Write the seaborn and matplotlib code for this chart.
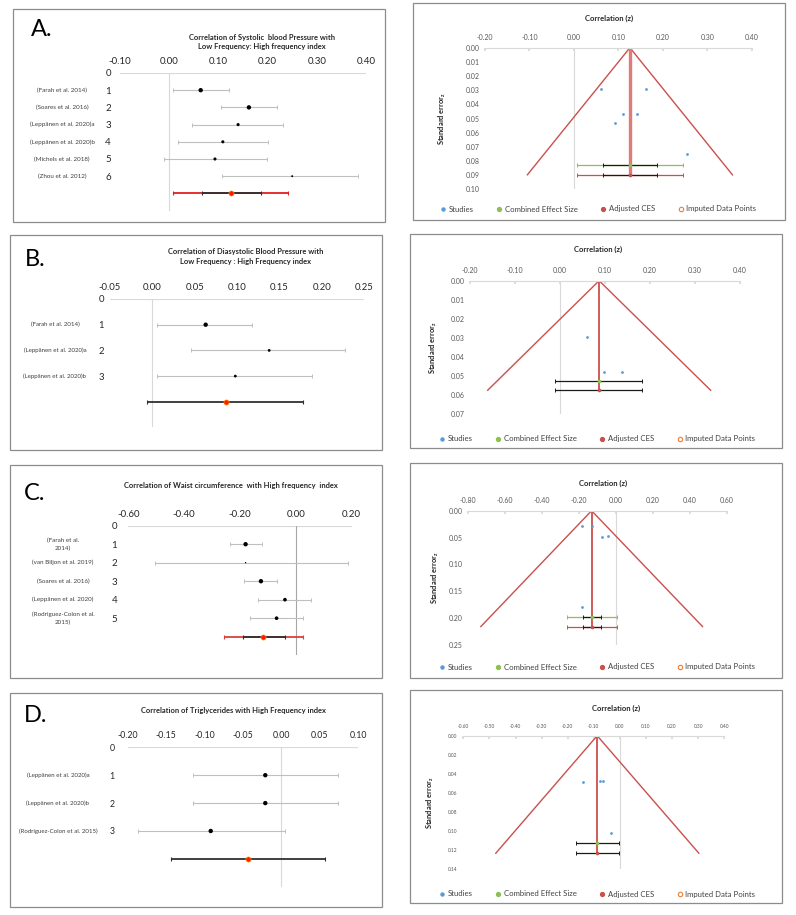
"""Forest plots + funnel plots (HRV meta-analysis figure), panels A-D"""

import matplotlib
matplotlib.use("Agg")
import matplotlib.pyplot as plt
import matplotlib.transforms as mtransforms
from matplotlib.lines import Line2D
from matplotlib.patches import Rectangle
import numpy as np
import seaborn as sns

sns.set_theme(style="white")
plt.rcParams["font.family"] = ["Lato", "DejaVu Sans"]
plt.rcParams["axes.unicode_minus"] = False

W, H = 796, 915

# ---------------- data: forest plots (z, 95% CI, relative weight) ----------------
A_STUDIES = ["(Farah et al. 2014)", "(Soares et al. 2016)", "(Leppänen et al. 2020)a",
             "(Leppänen et al. 2020)b", "(Michels et al. 2018)", "(Zhou et al. 2012)"]
A_EST = [0.064, 0.162, 0.140, 0.109, 0.093, 0.250]
A_LO = [0.007, 0.106, 0.047, 0.018, -0.011, 0.107]
A_HI = [0.122, 0.220, 0.231, 0.201, 0.198, 0.384]
A_WEIGHT = [10, 10, 5, 5, 5, 2]
A_POOLED = [0.126, 0.066, 0.186, 0.007, 0.241]   # est, inner lo/hi, outer lo/hi

B_STUDIES = ["(Farah et al. 2014)", "(Leppänen et al. 2020)a", "(Leppänen et al. 2020)b"]
B_EST = [0.063, 0.138, 0.098]
B_LO = [0.006, 0.046, 0.006]
B_HI = [0.118, 0.227, 0.189]
B_WEIGHT = [10, 4, 4]
B_POOLED = [0.087, -0.006, 0.178, None, None]

C_STUDIES = ["(Farah et al.\n2014)", "(van Biljon et al. 2019)", "(Soares et al. 2016)",
             "(Leppänen et al. 2020)", "(Rodriguez-Colon et al.\n2015)"]
C_EST = [-0.180, -0.180, -0.125, -0.039, -0.069]
C_LO = [-0.236, -0.505, -0.185, -0.135, -0.165]
C_HI = [-0.123, 0.185, -0.067, 0.056, 0.026]
C_WEIGHT = [10, 1, 10, 7, 7]
C_POOLED = [-0.117, -0.191, -0.039, -0.257, 0.026]

D_STUDIES = ["(Leppänen et al. 2020)a", "(Leppänen et al. 2020)b", "(Rodriguez-Colon et al. 2015)"]
D_EST = [-0.021, -0.021, -0.092]
D_LO = [-0.115, -0.115, -0.186]
D_HI = [0.074, 0.074, 0.005]
D_WEIGHT = [10, 10, 10]
D_POOLED = [-0.044, -0.144, 0.057, None, None]

# ---------------- data: funnel plots ----------------
# study z, study SE, [CES, SE row of CES, SE row of adjusted CES], outer CI, inner CI, funnel bottom x
FA_Z = [0.062, 0.162, 0.110, 0.141, 0.092, 0.255]
FA_SE = [0.029, 0.029, 0.047, 0.047, 0.053, 0.075]
FA_CES = [0.126, 0.0826, 0.0899]
FA_CI = [0.006, 0.245]
FA_CI_IN = [0.065, 0.188]
FA_FUNNEL = [-0.105, 0.357]

FB_Z = [0.061, 0.097, 0.138]
FB_SE = [0.0294, 0.0478, 0.0478]
FB_CES = [0.087, 0.0525, 0.0576]
FB_CI = None
FB_CI_IN = [-0.010, 0.182]
FB_FUNNEL = [-0.161, 0.335]

FC_Z = [-0.186, -0.132, -0.074, -0.045, -0.186]
FC_SE = [0.0285, 0.0285, 0.0484, 0.047, 0.179]
FC_CES = [-0.132, 0.198, 0.216]
FC_CI = [-0.264, 0.004]
FC_CI_IN = [-0.181, -0.081]
FC_FUNNEL = [-0.733, 0.470]

FD_Z = [-0.142, -0.075, -0.064, -0.034]
FD_SE = [0.049, 0.0473, 0.0473, 0.1026]
FD_CES = [-0.087, 0.113, 0.1236]
FD_CI = None
FD_CI_IN = [-0.170, -0.003]
FD_FUNNEL = [-0.476, 0.303]

BLUE = "#5B9BD5"
GREEN = "#8CC152"
RED = "#C9504D"
ORANGE = "#ED7D31"
GRID = "#D9D9D9"

fig = plt.figure(figsize=(W / 100, H / 100), dpi=100)
fig.patch.set_facecolor("white")


def add_ax(l, t, r, b):
    return fig.add_axes([l / W, 1 - b / H, (r - l) / W, (b - t) / H])


def ftext(x, y, s, **kw):
    fig.text(x / W, 1 - y / H, s, **kw)


def fmt2(vals):
    return [f"{v + 0.0:.2f}" for v in vals]


# panel frames
for l, t, r, b in [(13, 9, 385, 222), (413, 3, 785, 220), (10, 235, 382, 450), (410, 234, 782, 448),
                   (10, 465, 382, 678), (410, 463, 782, 678), (10, 693, 382, 907), (410, 690, 782, 903)]:
    fig.patches.append(Rectangle((l / W, 1 - b / H), (r - l) / W, (b - t) / H, transform=fig.transFigure,
                                 fill=False, edgecolor="#8C8C8C", lw=0.9))


def forest(ax, labels, est, lo, hi, weight, pooled, xticks, nrows, label_x, fs, ypad,
           zero_color=GRID, outer_color=None, lab_fs=4.5):
    n = len(labels)
    rows = np.arange(1, n + 1)
    ax.set_xlim(xticks[0], xticks[-1])
    ax.set_ylim(nrows, 0)
    ax.axhline(0, color=GRID, lw=0.8, zorder=0)
    ax.axvline(0, color=zero_color, lw=0.8, zorder=0)
    ax.errorbar(est, rows, xerr=[np.subtract(est, lo), np.subtract(hi, est)], fmt="none",
                ecolor="#BFBFBF", elinewidth=0.8, capsize=1.3, capthick=0.7)
    sizes = {w: w for w in set(weight)}
    sns.scatterplot(x=est, y=rows, size=weight, sizes=sizes, color="black", linewidth=0,
                    legend=False, ax=ax, zorder=3)
    p_est, in_lo, in_hi, out_lo, out_hi = pooled
    prow = n + 1
    if out_lo is not None:
        ax.errorbar([p_est], [prow], xerr=[[p_est - out_lo], [out_hi - p_est]], fmt="none",
                    ecolor=outer_color, elinewidth=1.3, capsize=1.3, capthick=0.8)
    ax.errorbar([p_est], [prow], xerr=[[p_est - in_lo], [in_hi - p_est]], fmt="none",
                ecolor="#303030", elinewidth=1.3, capsize=1.3, capthick=0.8)
    sns.scatterplot(x=[p_est], y=[prow], color="#FF1A00", edgecolor="#FFB000", linewidth=0.4,
                    s=14, ax=ax, zorder=4)
    ax.xaxis.tick_top()
    ax.set_xticks(xticks)
    ax.set_xticklabels(fmt2(xticks), fontsize=fs, color="#262626")
    ax.set_yticks(range(n + 1))
    ax.set_yticklabels([str(i) for i in range(n + 1)], fontsize=fs, color="#262626")
    ax.tick_params(axis="x", length=0, pad=5)
    ax.tick_params(axis="y", length=0, pad=ypad)
    for sp in ax.spines.values():
        sp.set_visible(False)
    ax.set_facecolor("none")
    trans = mtransforms.blended_transform_factory(fig.transFigure, ax.transData)
    for r, lab in zip(rows, labels):
        ax.text(label_x / W, r, lab, transform=trans, ha="center", va="center",
                fontsize=lab_fs, color="#404040", linespacing=1.5)


def funnel(ax, z, se, ces, ci, ci_in, fun, xticks, yticks, fs, vline_w=1.3, vline_color=RED):
    est, se_ces, se_adj = ces
    ax.set_xlim(xticks[0], xticks[-1])
    ax.set_ylim(yticks[-1], 0)
    ax.plot([0, 0], [0, yticks[-1]], color=GRID, lw=0.8, zorder=0)
    ax.plot([fun[0], est, fun[1]], [se_adj, 0, se_adj], color=RED, lw=1.0, zorder=1)
    ax.plot([est, est], [0, se_adj], color=vline_color, lw=vline_w, zorder=1)
    for yrow, col in [(se_ces, GREEN), (se_adj, RED)]:
        if ci is not None:
            ax.errorbar([est], [yrow], xerr=[[est - ci[0]], [ci[1] - est]], fmt="none",
                        ecolor=col, elinewidth=0.9, capsize=1.2, capthick=0.7, zorder=2)
        ax.errorbar([est], [yrow], xerr=[[est - ci_in[0]], [ci_in[1] - est]], fmt="none",
                    ecolor="#1A1A1A", elinewidth=0.9, capsize=1.2, capthick=0.7, zorder=2)
    sns.scatterplot(x=z, y=se, color=BLUE, s=4, linewidth=0, ax=ax, zorder=3)
    sns.scatterplot(x=[est], y=[se_ces], color=GREEN, s=7, linewidth=0, ax=ax, zorder=4)
    sns.scatterplot(x=[est], y=[se_adj], color=RED, s=7, linewidth=0, ax=ax, zorder=4)
    ax.xaxis.tick_top()
    ax.set_xticks(xticks)
    ax.set_xticklabels(fmt2(xticks), fontsize=fs, color="#595959")
    ax.set_yticks(yticks)
    ax.set_yticklabels(fmt2(yticks), fontsize=fs, color="#595959")
    ax.tick_params(axis="x", length=2, direction="in", color=GRID, pad=5)
    ax.tick_params(axis="y", length=0, pad=4)
    for k, sp in ax.spines.items():
        sp.set_visible(k == "top")
    ax.spines["top"].set_color(GRID)
    ax.spines["top"].set_linewidth(0.8)
    ax.set_facecolor("none")


def funnel_legend(ax, x, y, fs=5.6):
    handles = [Line2D([], [], marker="o", ls="", color=BLUE, ms=2.2, label="Studies"),
               Line2D([], [], marker="o", ls="", color=GREEN, ms=2.8, label="Combined Effect Size"),
               Line2D([], [], marker="o", ls="", color=RED, ms=2.8, label="Adjusted CES"),
               Line2D([], [], marker="o", ls="", mfc="none", mec=ORANGE, mew=0.8, ms=3.2,
                      label="Imputed Data Points")]
    ax.legend(handles=handles, loc="center left", bbox_to_anchor=(x / W, 1 - y / H),
              bbox_transform=fig.transFigure, ncol=4, frameon=False, fontsize=fs,
              handlelength=0.8, handletextpad=0.3, columnspacing=2.9, borderpad=0,
              borderaxespad=0, labelcolor="#404040")


def funnel_labels(ax, title_xy, ylab_x):
    ftext(*title_xy, "Correlation (z)", ha="center", va="center", fontsize=5.5,
          fontweight="bold", color="#262626")
    pos = ax.get_position()
    fig.text(ylab_x / W, pos.y0 + pos.height / 2, r"Standard error$_\mathregular{z}$", rotation=90,
             ha="center", va="center", fontsize=5.4, fontweight="bold", color="#262626")


# ---------------- A ----------------
ax = add_ax(120, 73, 366, 210.6)
forest(ax, A_STUDIES, A_EST, A_LO, A_HI, A_WEIGHT, A_POOLED, np.round(np.arange(-0.10, 0.41, 0.10), 2),
       8, 62, 7, 6.5, outer_color="#E02020")
ftext(262, 42, "Correlation of Systolic  blood Pressure with\nLow Frequency: High frequency index",
      ha="center", va="center", fontsize=5.4, fontweight="bold", color="#262626", linespacing=1.4)
ftext(31, 30, "A.", ha="left", va="center", fontsize=17, color="black")

ax = add_ax(485, 47.7, 751.7, 189.3)
funnel(ax, FA_Z, FA_SE, FA_CES, FA_CI, FA_CI_IN, FA_FUNNEL, np.round(np.arange(-0.2, 0.41, 0.1), 2),
       np.round(np.arange(0, 0.101, 0.01), 2), 5, vline_w=2.4, vline_color="#E07B7A")
funnel_labels(ax, (609, 18), 442)
funnel_legend(ax, 440, 209)

# ---------------- B ----------------
ax = add_ax(110, 299, 364, 427.5)
forest(ax, B_STUDIES, B_EST, B_LO, B_HI, B_WEIGHT, B_POOLED, np.round(np.arange(-0.05, 0.26, 0.05), 2),
       5, 55, 6.8, 4.3, lab_fs=4.4)
ftext(246, 256.5, "Correlation of Diasystolic Blood Pressure with\nLow Frequency : High Frequency index",
      ha="center", va="center", fontsize=5.4, fontweight="bold", color="#262626", linespacing=1.4)
ftext(25, 260, "B.", ha="left", va="center", fontsize=17, color="black")

ax = add_ax(470, 280.7, 740, 414)
funnel(ax, FB_Z, FB_SE, FB_CES, FB_CI, FB_CI_IN, FB_FUNNEL, np.round(np.arange(-0.2, 0.41, 0.1), 2),
       np.round(np.arange(0, 0.071, 0.01), 2), 5)
funnel_labels(ax, (598, 249), 433)
funnel_legend(ax, 439, 439)

# ---------------- C ----------------
ax = add_ax(128.3, 525.7, 351.7, 655.2)
forest(ax, C_STUDIES, C_EST, C_LO, C_HI, C_WEIGHT, C_POOLED, np.round(np.arange(-0.60, 0.21, 0.20), 2),
       7, 63, 7, 8, zero_color="#A6A6A6", outer_color="#D9403A", lab_fs=4.5)
ftext(231, 485, "Correlation of Waist circumference  with High frequency  index",
      ha="center", va="center", fontsize=5.4, fontweight="bold", color="#262626")
ftext(24, 494, "C.", ha="left", va="center", fontsize=17, color="black")

ax = add_ax(468.3, 510.7, 726.7, 645)
funnel(ax, FC_Z, FC_SE, FC_CES, FC_CI, FC_CI_IN, FC_FUNNEL, np.round(np.arange(-0.8, 0.61, 0.2), 2),
       np.round(np.arange(0, 0.251, 0.05), 2), 5)
funnel_labels(ax, (603, 483), 435)
funnel_legend(ax, 439, 667)

# ---------------- D ----------------
ax = add_ax(127.7, 747.3, 358.3, 886.8)
forest(ax, D_STUDIES, D_EST, D_LO, D_HI, D_WEIGHT, D_POOLED, np.round(np.arange(-0.20, 0.11, 0.05), 2),
       5, 58, 6.3, 9.5, lab_fs=4.4)
ftext(233, 710, "Correlation of Triglycerides with High Frequency index",
      ha="center", va="center", fontsize=5.4, fontweight="bold", color="#262626")
ftext(24, 715, "D.", ha="left", va="center", fontsize=17, color="black")

ax = add_ax(463.3, 735.7, 724.3, 869)
funnel(ax, FD_Z, FD_SE, FD_CES, FD_CI, FD_CI_IN, FD_FUNNEL, np.round(np.arange(-0.6, 0.41, 0.1), 2),
       np.round(np.arange(0, 0.141, 0.02), 2), 3.5)
funnel_labels(ax, (616, 708), 430)
funnel_legend(ax, 439, 894)

fig.savefig("out.png", dpi=100, facecolor="white")
